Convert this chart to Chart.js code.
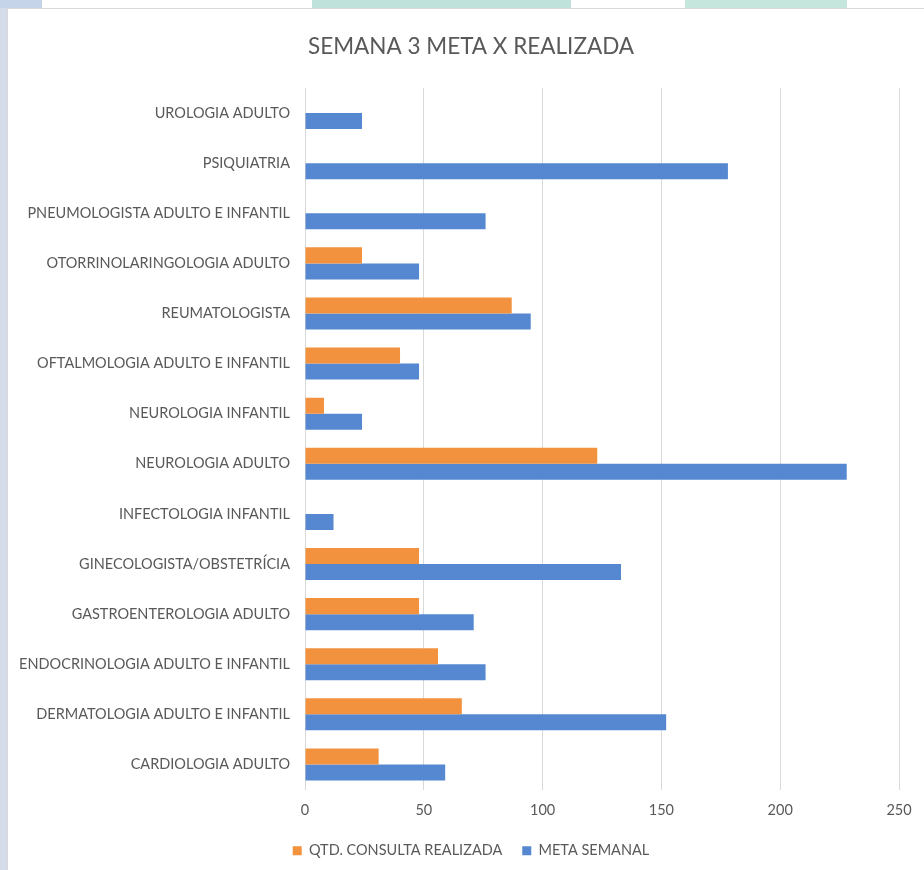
<!DOCTYPE html>
<html>
<head>
<meta charset="utf-8">
<title>Semana 3 meta x realizada</title>
<script src="https://cdn.jsdelivr.net/npm/chart.js@4.4.1/dist/chart.umd.min.js"></script>
<style>
    html, body { margin: 0; padding: 0; background: #ffffff; }
    body { width: 924px; height: 870px; position: relative; overflow: hidden; }
    .deco { position: absolute; }
    #box {
        position: absolute; left: 7px; top: 8px; width: 917px; height: 862px;
        background: #ffffff; border-left: 1px solid #d9d9d9; border-top: 1px solid #d9d9d9;
        box-sizing: border-box;
    }
    #box canvas { display: block; }
</style>
</head>
<body>
<!-- page background showing around the chart -->
<div class="deco" style="left:0;top:0;width:7px;height:870px;background:#d4dcea;"></div>
<div class="deco" style="left:0;top:0;width:42px;height:8px;background:#c6d4ea;"></div>
<div class="deco" style="left:312px;top:0;width:259px;height:8px;background:#bfe3da;"></div>
<div class="deco" style="left:685px;top:0;width:162px;height:8px;background:#c5e6dd;"></div>

<div id="box"><canvas id="chart" width="916" height="861"></canvas></div>

<script>
// categories, top to bottom as drawn
const categories = [
    "UROLOGIA ADULTO",
    "PSIQUIATRIA",
    "PNEUMOLOGISTA ADULTO E INFANTIL",
    "OTORRINOLARINGOLOGIA ADULTO",
    "REUMATOLOGISTA",
    "OFTALMOLOGIA ADULTO E INFANTIL",
    "NEUROLOGIA INFANTIL",
    "NEUROLOGIA ADULTO",
    "INFECTOLOGIA INFANTIL",
    "GINECOLOGISTA/OBSTETRÍCIA",
    "GASTROENTEROLOGIA ADULTO",
    "ENDOCRINOLOGIA ADULTO E INFANTIL",
    "DERMATOLOGIA ADULTO E INFANTIL",
    "CARDIOLOGIA ADULTO"
];

const realizada = [0, 0, 0, 24, 87, 40, 8, 123, 0, 48, 48, 56, 66, 31];
const metaSemanal = [24, 178, 76, 48, 95, 48, 24, 228, 12, 133, 71, 76, 152, 59];

const xTicks = [0, 50, 100, 150, 200, 250];

const TEXT = "#595959";
const FONT = "Lato, 'Open Sans', sans-serif";

const ctx = document.getElementById("chart").getContext("2d");

new Chart(ctx, {
    type: "bar",
    data: {
        labels: categories,
        datasets: [
            {
                label: "QTD. CONSULTA REALIZADA",
                data: realizada,
                backgroundColor: "#F2923F"
            },
            {
                label: "META SEMANAL",
                data: metaSemanal,
                backgroundColor: "#5588D0"
            }
        ]
    },
    options: {
        indexAxis: "y",
        responsive: false,
        animation: false,
        categoryPercentage: 0.64,
        barPercentage: 1.0,
        // left padding keeps title/legend a bit right of centre, like the original
        layout: { padding: { left: 10, right: 0, top: 0, bottom: 2 } },
        plugins: {
            title: {
                display: true,
                text: "SEMANA 3 META X REALIZADA",
                color: TEXT,
                font: { family: FONT, size: 22.5, weight: "normal" },
                padding: { top: 24, bottom: 28 }
            },
            legend: {
                position: "bottom",
                labels: {
                    color: TEXT,
                    font: { family: FONT, size: 14.5 },
                    boxWidth: 9,
                    boxHeight: 9,
                    padding: 20
                }
            },
            tooltip: { enabled: false }
        },
        scales: {
            x: {
                min: 0,
                max: 250,
                afterBuildTicks: (scale) => { scale.ticks = xTicks.map(v => ({ value: v })); },
                afterFit: (scale) => { scale.height = 34; },
                grid: { color: "#d9d9d9", lineWidth: 1, drawTicks: false },
                border: { display: false },
                ticks: {
                    color: TEXT,
                    font: { family: FONT, size: 14.5 },
                    padding: 12
                }
            },
            y: {
                afterFit: (scale) => { scale.width = 287; },
                grid: { display: false, drawTicks: false },
                border: { display: false },
                ticks: {
                    color: TEXT,
                    font: { family: FONT, size: 14.5 },
                    padding: 15
                }
            },
            // empty right-hand strip so the plot stops where the original does
            yRight: {
                position: "right",
                afterFit: (scale) => { scale.width = 25; },
                grid: { display: false, drawTicks: false },
                border: { display: false },
                ticks: { display: false }
            }
        }
    }
});
</script>
</body>
</html>
